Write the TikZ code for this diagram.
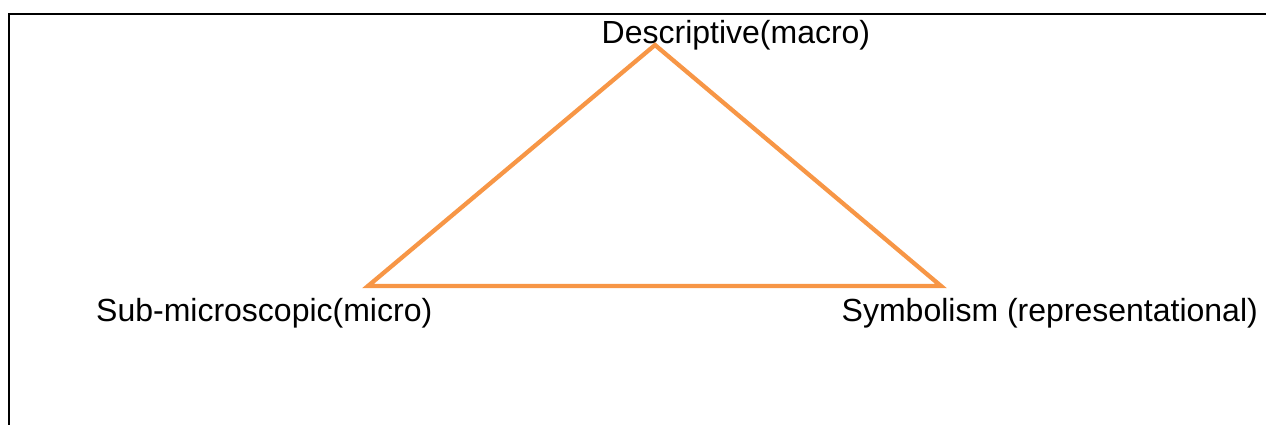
\documentclass[tikz,border=0pt]{standalone}
\usepackage{fontspec}
\setmainfont{Liberation Sans}
\definecolor{triorange}{HTML}{F79646}
\begin{document}
\begin{tikzpicture}[x=1pt,y=-1pt,
  lbl/.style={inner sep=0pt,anchor=base west,font=\fontsize{32}{38}\selectfont},
  frameline/.style={line width=2pt,black},
  triline/.style={line width=4.3pt,triorange,line join=miter}]
\useasboundingbox (0,0) rectangle (1266,425);
\coordinate (fb) at (9,425);
\coordinate (fc) at (9,14);
\coordinate (fr) at (1266,14);
\draw[frameline] (fb) -- (fc) -- (fr);
\coordinate (apex) at (655,45);
\coordinate (left) at (368,286);
\coordinate (right) at (941,286);
\draw[triline] (apex) -- (left) -- (right) -- cycle;
\node[lbl] (desc) at (601.5,44) {Descriptive(macro)};
\node[lbl] (sub) at (96,321) {Sub-microscopic(micro)};
\node[lbl] (sym) at (841.5,321) {Symbolism (representational)};
\end{tikzpicture}
\end{document}
